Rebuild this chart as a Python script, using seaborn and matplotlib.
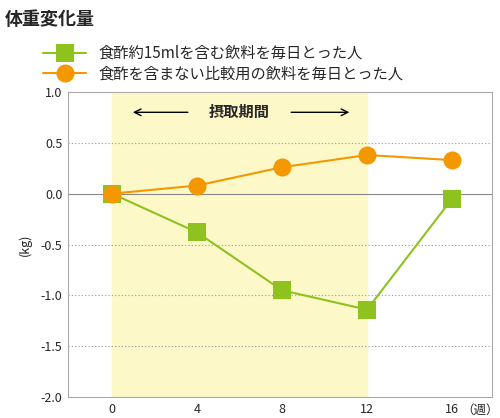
import pandas as pd
import matplotlib.pyplot as plt
import seaborn as sns

# data
weeks = [0, 4, 8, 12, 16]
vinegar = [0.0, -0.38, -0.95, -1.14, -0.05]
control = [0.0, 0.08, 0.26, 0.38, 0.33]
label_vinegar = '食酢約15mlを含む飲料を毎日とった人'
label_control = '食酢を含まない比較用の飲料を毎日とった人'

df = pd.DataFrame({'week': weeks * 2,
                   'value': vinegar + control,
                   'group': [label_vinegar] * 5 + [label_control] * 5})

sns.set_theme(style='white')
plt.rcParams['font.family'] = ['Noto Sans CJK JP', 'DejaVu Sans']

green = '#8dc21f'
orange = '#f39800'

fig = plt.figure(figsize=(5, 4.18), dpi=100)
ax = fig.add_axes([0.136, 0.05, 0.848, 0.73])

ax.axvspan(0, 12, color='#fdf8c8', zorder=0)
for y in [1.0, 0.5, -0.5, -1.0, -1.5]:
    ax.axhline(y, color='#999999', ls=(0, (1, 2)), lw=0.8, zorder=1)
ax.axhline(0, color='#888888', lw=0.8, zorder=1)

sns.lineplot(data=df, x='week', y='value', hue='group', style='group',
             palette=[green, orange], markers=['s', 'o'], dashes=False,
             markersize=13, markeredgewidth=0, lw=1.5, ax=ax, zorder=3)

ax.set_xlim(-2.07, 17.88)
ax.set_ylim(-2.0, 1.0)
ax.set_xticks(weeks)
ax.set_yticks([1.0, 0.5, 0.0, -0.5, -1.0, -1.5, -2.0])
ax.set_yticklabels([f'{v:.1f}' for v in [1.0, 0.5, 0.0, -0.5, -1.0, -1.5, -2.0]])
ax.tick_params(labelsize=9, length=0, pad=4)
ax.set_xlabel('')
ax.set_ylabel('(kg)', fontsize=9, labelpad=6)
for s in ax.spines.values():
    s.set_color('#aaaaaa')
    s.set_linewidth(0.8)

ax.annotate('', xy=(0.85, 0.8), xytext=(3.7, 0.8),
            arrowprops=dict(arrowstyle='->', color='black', lw=1))
ax.annotate('', xy=(11.3, 0.8), xytext=(8.3, 0.8),
            arrowprops=dict(arrowstyle='->', color='black', lw=1))
ax.text(6, 0.8, '摂取期間', ha='center', va='center', fontsize=11, fontweight='bold')
ax.text(17.3, -2.07, '（週）', ha='center', va='top', fontsize=9, clip_on=False)

fig.text(0.01, 0.975, '体重変化量', fontsize=13, fontweight='bold', va='top')
ax.legend(loc='lower left', bbox_to_anchor=(-0.08, 1.0), frameon=False,
          fontsize=11, handlelength=2.8, labelspacing=0.25, borderaxespad=0.2)

fig.savefig('out.png', dpi=100)
